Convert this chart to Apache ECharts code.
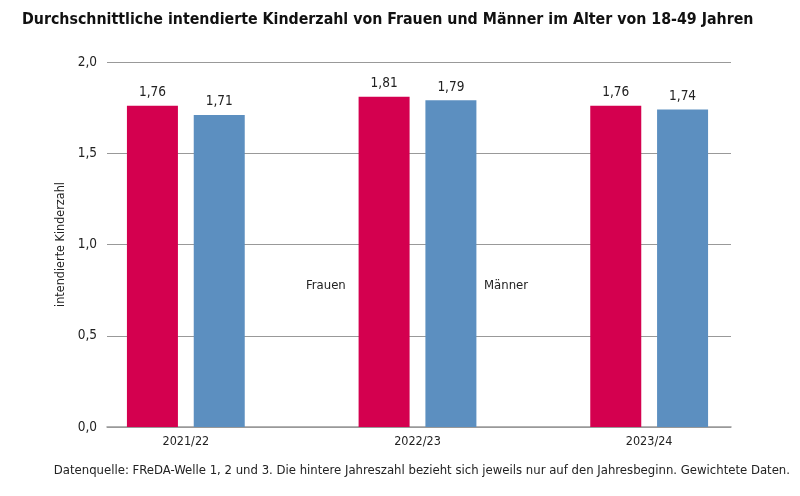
<!DOCTYPE html>
<html>
<head>
<meta charset="utf-8">
<script src="https://cdn.jsdelivr.net/npm/echarts@6/dist/echarts.min.js"></script>
<style>html,body{margin:0;padding:0;background:#fff}#c{width:800px;height:496px}</style>
</head>
<body>
<div id="c"></div>
<script>
var categories = ['2021/22', '2022/23', '2023/24'];
var frauen = [1.76, 1.81, 1.76];
var maenner = [1.71, 1.79, 1.74];
var seriesNames = ['Frauen', 'Männer'];
var yTicks = [0, 0.5, 1.0, 1.5, 2.0];

var FONT = '"DejaVu Sans Condensed", "Liberation Sans Narrow", "DejaVu Sans", sans-serif';
var RED = '#D4004F';
var BLUE = '#5C8FC0';
function de(v, d) { return v.toFixed(d).replace('.', ','); }

var chart = echarts.init(document.getElementById('c'));
chart.setOption({
  animation: false,
  textStyle: { fontFamily: FONT },
  title: {
    text: 'Durchschnittliche intendierte Kinderzahl von Frauen und Männer im Alter von 18-49 Jahren',
    left: 17, top: 7,
    textStyle: { fontFamily: FONT, fontWeight: 'bold', fontSize: 15.8, color: '#111' }
  },
  legend: [
    { data: [seriesNames[0]], left: 296, top: 274, icon: 'rect', itemWidth: 0, itemHeight: 0,
      textStyle: { fontFamily: FONT, fontSize: 13, color: '#222' } },
    { data: [seriesNames[1]], left: 474, top: 274, icon: 'rect', itemWidth: 0, itemHeight: 0,
      textStyle: { fontFamily: FONT, fontSize: 13, color: '#222' } }
  ],
  graphic: [{
    type: 'text', right: 10, top: 464,
    style: { text: 'Datenquelle: FReDA-Welle 1, 2 und 3. Die hintere Jahreszahl bezieht sich jeweils nur auf den Jahresbeginn. Gewichtete Daten.',
      font: '13px ' + FONT, fill: '#222' }
  }],
  grid: [
    { left: 70, right: 35, top: 62, bottom: 69 },
    { left: 107, right: 69, top: 62, bottom: 69 }
  ],
  xAxis: [
    { type: 'category', gridIndex: 0, data: categories,
      axisLine: { show: false }, axisTick: { show: false },
      axisLabel: { margin: 8, fontSize: 12.5, color: '#222', fontFamily: FONT } },
    { type: 'category', gridIndex: 1, data: categories,
      axisLine: { show: true, lineStyle: { color: '#999', width: 1.5 } }, axisTick: { show: false },
      axisLabel: { show: false } }
  ],
  yAxis: [
    { type: 'value', gridIndex: 0, min: 0, max: 2, interval: 0.5, show: false, splitLine: { show: false } },
    { type: 'value', gridIndex: 1, min: 0, max: 2, interval: 0.5,
      name: 'intendierte Kinderzahl', nameLocation: 'middle', nameGap: 38,
      nameTextStyle: { fontSize: 12.5, color: '#222', fontFamily: FONT },
      axisLine: { show: false }, axisTick: { show: false },
      axisLabel: { margin: 10, fontSize: 13.5, color: '#222', fontFamily: FONT, formatter: function (v) { return de(v, 1); } },
      splitLine: { lineStyle: { color: '#999', width: 1 } } }
  ],
  series: [
    { name: seriesNames[0], type: 'bar', xAxisIndex: 0, yAxisIndex: 0, data: frauen,
      barWidth: 51, barGap: '31%', itemStyle: { color: RED },
      label: { show: true, position: 'top', distance: 6, fontSize: 13.5, color: '#222', fontFamily: FONT,
        formatter: function (p) { return de(p.value, 2); } } },
    { name: seriesNames[1], type: 'bar', xAxisIndex: 0, yAxisIndex: 0, data: maenner,
      barWidth: 51, barGap: '31%', itemStyle: { color: BLUE },
      label: { show: true, position: 'top', distance: 6, fontSize: 13.5, color: '#222', fontFamily: FONT,
        formatter: function (p) { return de(p.value, 2); } } }
  ]
});
</script>
</body>
</html>
